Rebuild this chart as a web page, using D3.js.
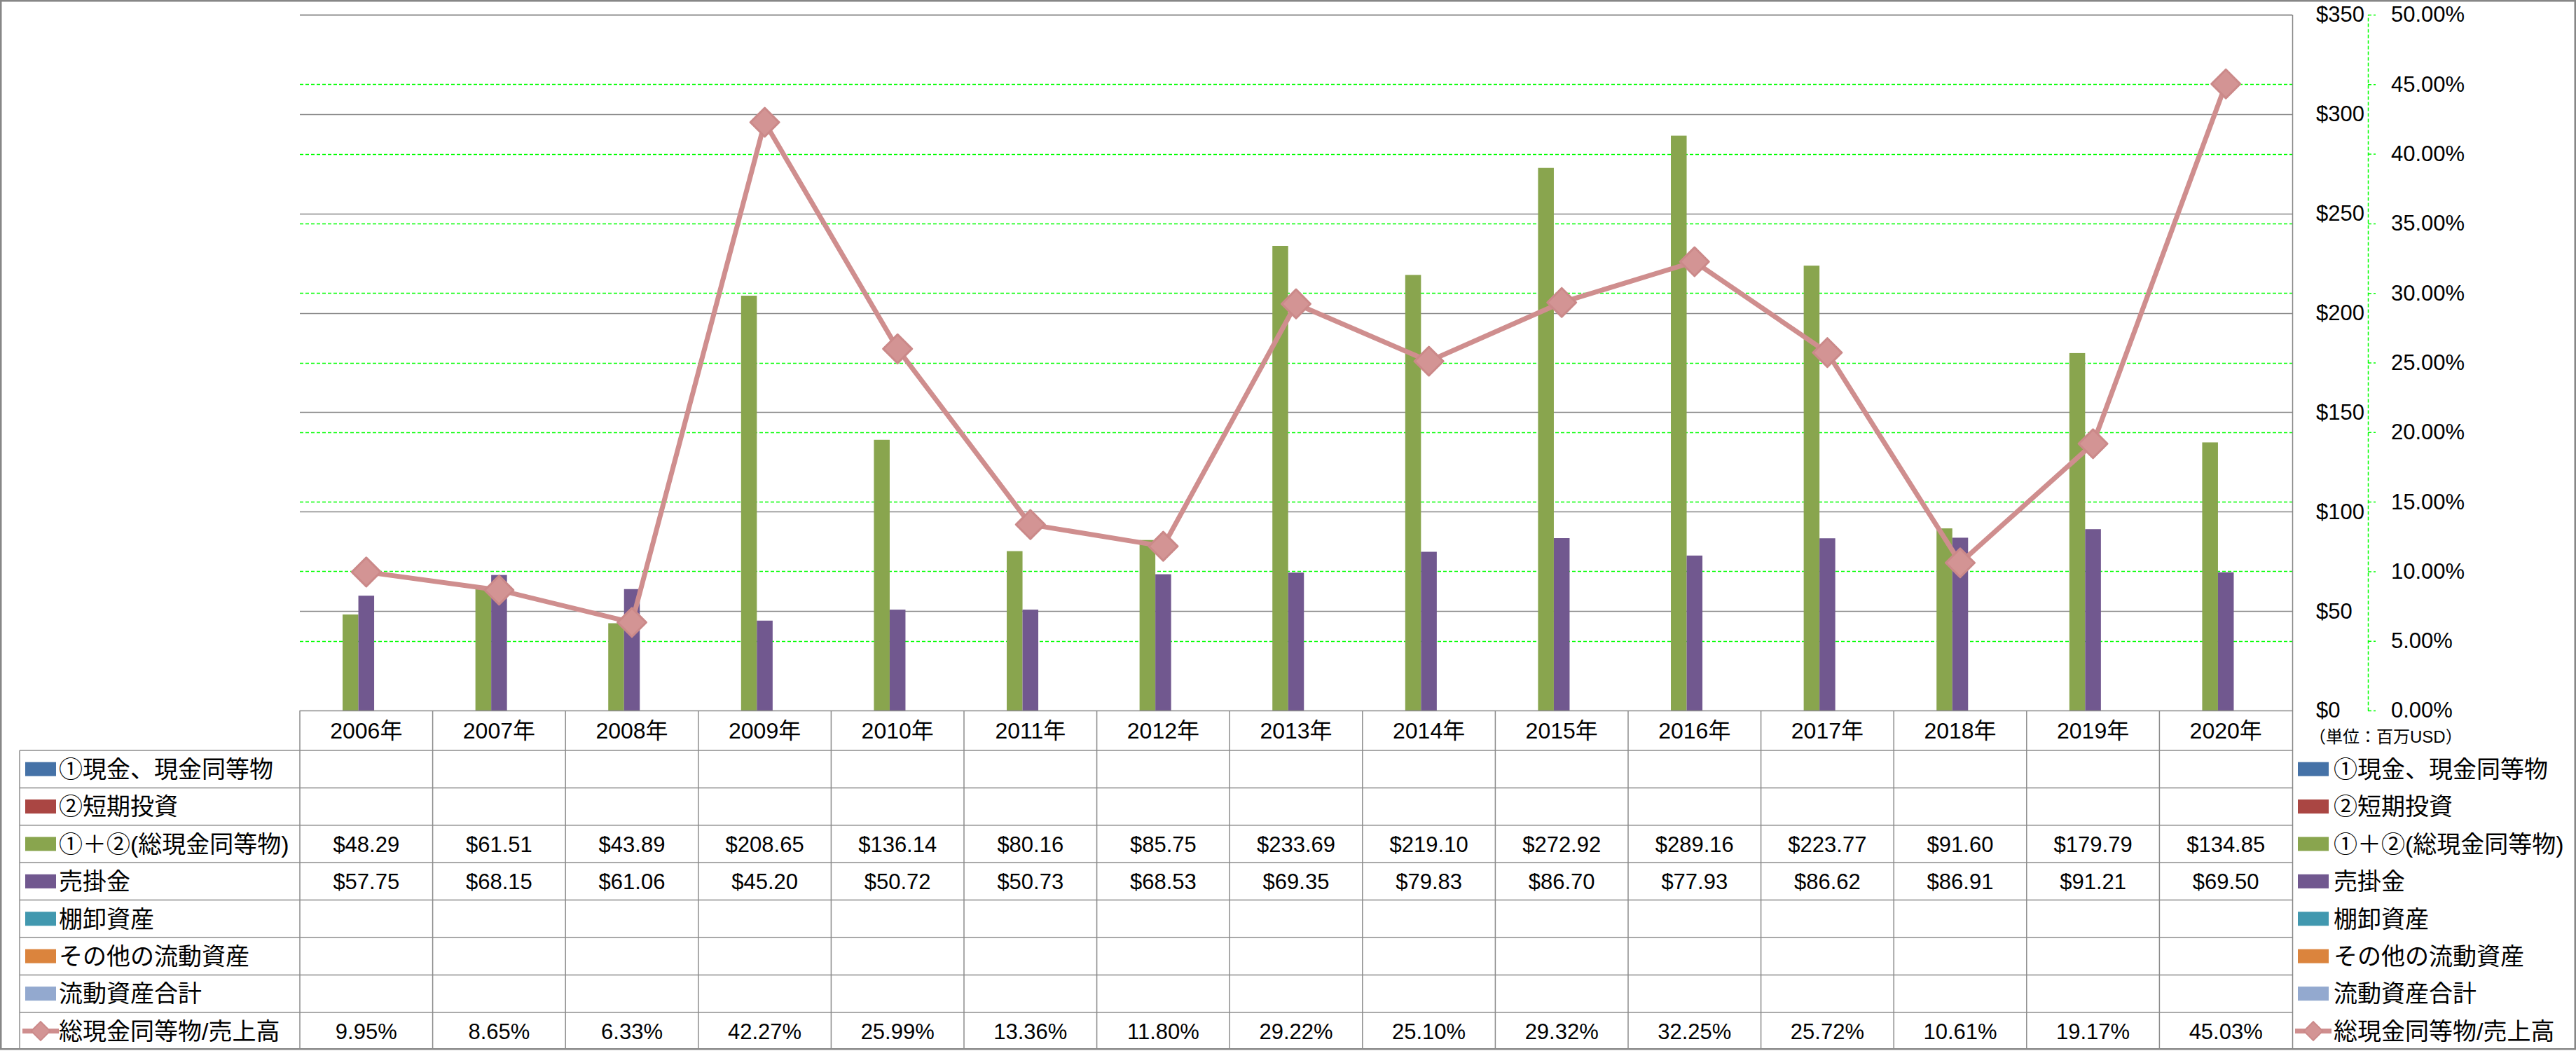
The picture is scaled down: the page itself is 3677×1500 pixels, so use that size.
<!DOCTYPE html>
<html>
<head>
<meta charset="utf-8">
<script src="https://cdn.jsdelivr.net/npm/d3@7"></script>
<style>
html,body{margin:0;padding:0;background:#fff;}
svg{display:block;}
text{font-family:"Liberation Sans","Noto Sans CJK JP",sans-serif;fill:#000;}
</style>
</head>
<body>
<svg id="chart" width="3677" height="1500"></svg>
<script>
// ---------------- data ----------------
const years = ["2006年","2007年","2008年","2009年","2010年","2011年","2012年","2013年","2014年","2015年","2016年","2017年","2018年","2019年","2020年"];
const seriesNames = ["①現金、現金同等物","②短期投資","①＋②(総現金同等物)","売掛金","棚卸資産","その他の流動資産","流動資産合計"];
const lineName = "総現金同等物/売上高";
const cashEq = [null,null,null,null,null,null,null,null,null,null,null,null,null,null,null];
const shortInv = [null,null,null,null,null,null,null,null,null,null,null,null,null,null,null];
const totalCash = [48.29,61.51,43.89,208.65,136.14,80.16,85.75,233.69,219.10,272.92,289.16,223.77,91.60,179.79,134.85];
const receivables = [57.75,68.15,61.06,45.20,50.72,50.73,68.53,69.35,79.83,86.70,77.93,86.62,86.91,91.21,69.50];
const inventory = [null,null,null,null,null,null,null,null,null,null,null,null,null,null,null];
const otherCur = [null,null,null,null,null,null,null,null,null,null,null,null,null,null,null];
const totalCur = [null,null,null,null,null,null,null,null,null,null,null,null,null,null,null];
const ratioPct = [9.95,8.65,6.33,42.27,25.99,13.36,11.80,29.22,25.10,29.32,32.25,25.72,10.61,19.17,45.03];
const dollarTicks = [0,50,100,150,200,250,300,350];
const pctTicks = [0,0.05,0.10,0.15,0.20,0.25,0.30,0.35,0.40,0.45,0.50];
const unitLabel = "（単位：百万USD）";

// ---------------- styles ----------------
const seriesColors = ["#4572A7","#AA4643","#89A54E","#71588F","#4198AF","#DB843D","#93A9CF"];
const lineColor = "#CF8E8E";
const markerFill = "#D39494";
const markerStroke = "#CB8989";
const gridGray = "#878787";
const tableGray = "#8C8C8C";
const dashGreen = "#00FF00";

const seriesValues = [cashEq, shortInv, totalCash, receivables, inventory, otherCur, totalCur];

const svg = d3.select("#chart");
const P = {left:428, right:3272, top:21, bottom:1014};
const tableTop = 1014, headerBottom = 1071, rowH = 53.4, tableLeft = 28;

const x = d3.scaleBand().domain(years).range([P.left, P.right]).padding(0);
const xs = d3.scaleBand().domain(d3.range(seriesNames.length)).range([0, x.bandwidth()]).paddingInner(0).paddingOuter(0.71);
const y = d3.scaleLinear().domain([0,350]).range([P.bottom, P.top]);
const y2 = d3.scaleLinear().domain([0,0.5]).range([P.bottom, P.top]);

// chart border
svg.append("rect").attr("x",1.25).attr("y",1.25).attr("width",3677-2.5).attr("height",1497-1)
  .attr("fill","#fff").attr("stroke",gridGray).attr("stroke-width",2.5);

// gray gridlines (primary axis)
svg.append("g").selectAll("line").data(dollarTicks.filter(d=>d>0)).join("line")
  .attr("x1",P.left).attr("x2",P.right)
  .attr("y1",d=>Math.round(y(d))+0.5).attr("y2",d=>Math.round(y(d))+0.5)
  .attr("stroke",gridGray).attr("stroke-width",1.5);

// green dashed gridlines (secondary axis)
svg.append("g").selectAll("line").data(pctTicks.filter(d=>d>0 && d<0.5)).join("line")
  .attr("x1",P.left).attr("x2",P.right)
  .attr("y1",d=>Math.round(y2(d))+0.5).attr("y2",d=>Math.round(y2(d))+0.5)
  .attr("stroke",dashGreen).attr("stroke-width",1.3).attr("stroke-dasharray","5,3");

// bars
const barG = svg.append("g");
seriesValues.forEach((vals, si) => {
  barG.append("g").selectAll("rect")
    .data(vals.map((v,i)=>({v, yr:years[i]})).filter(d=>d.v!=null))
    .join("rect")
    .attr("x", d=>x(d.yr)+xs(si))
    .attr("width", xs.bandwidth())
    .attr("y", d=>y(d.v))
    .attr("height", d=>y(0)-y(d.v))
    .attr("fill", seriesColors[si]);
});

// line
const cx = yr => x(yr)+x.bandwidth()/2;
const lineGen = d3.line().x((d,i)=>cx(years[i])).y(d=>y2(d/100));
svg.append("path").datum(ratioPct).attr("d",lineGen)
  .attr("fill","none").attr("stroke",lineColor).attr("stroke-width",7).attr("stroke-linejoin","round");
const diamond = d3.symbol().type(d3.symbolSquare).size(29*29);
svg.append("g").selectAll("path").data(ratioPct).join("path")
  .attr("d",diamond)
  .attr("transform",(d,i)=>`translate(${cx(years[i])},${y2(d/100)}) rotate(45)`)
  .attr("fill",markerFill).attr("stroke",markerStroke).attr("stroke-width",3).attr("stroke-linejoin","round");

// plot right border
svg.append("line").attr("x1",P.right+0.5).attr("x2",P.right+0.5).attr("y1",P.top).attr("y2",1498)
  .attr("stroke",gridGray).attr("stroke-width",1.5);

// top border of plot (350 gridline)
svg.append("line").attr("x1",P.left).attr("x2",P.right).attr("y1",Math.round(y(350))+0.5).attr("y2",Math.round(y(350))+0.5)
  .attr("stroke",gridGray).attr("stroke-width",1.5);

// dollar axis labels (right side)
const dollarAxis = d3.axisRight(y).tickValues(dollarTicks).tickSize(0).tickPadding(0).tickFormat(d=>"$"+d);
const gDol = svg.append("g").attr("transform","translate(3306,0)").call(dollarAxis);
gDol.select(".domain").remove();
gDol.selectAll("text").attr("font-size",31).attr("font-family","Liberation Sans").attr("text-anchor","start").attr("x",0);

// percent axis (green dashed)
const pctAxis = d3.axisRight(y2).tickValues(pctTicks).tickSize(11).tickSizeOuter(0).tickPadding(22).tickFormat(d3.format(".2%"));
const gPct = svg.append("g").attr("transform","translate(3380,0)").call(pctAxis);
gPct.select(".domain").attr("stroke",dashGreen).attr("stroke-width",1.5).attr("stroke-dasharray","5,3");
gPct.selectAll(".tick line").attr("stroke",dashGreen).attr("stroke-width",1.5).attr("stroke-dasharray","5,3");
gPct.selectAll("text").attr("font-size",31).attr("font-family","Liberation Sans").attr("x",33);

// unit label
svg.append("text").attr("x",3296).attr("y",1052).attr("dy","0.35em").attr("font-size",24).text(unitLabel);

// ---------------- data table ----------------
const tbl = svg.append("g");
const rowTop = r => headerBottom + r*rowH;
const nRows = seriesNames.length + 1;
// horizontal lines
tbl.append("line").attr("x1",P.left).attr("x2",P.right).attr("y1",tableTop+0.5).attr("y2",tableTop+0.5)
  .attr("stroke",tableGray).attr("stroke-width",1.5);
d3.range(nRows).forEach(r=>{
  tbl.append("line").attr("x1",tableLeft).attr("x2",P.right).attr("y1",rowTop(r)).attr("y2",rowTop(r))
    .attr("stroke",tableGray).attr("stroke-width",1.5);
});
// vertical lines
tbl.append("line").attr("x1",tableLeft).attr("x2",tableLeft).attr("y1",headerBottom).attr("y2",1498)
  .attr("stroke",tableGray).attr("stroke-width",1.5);
years.forEach(yr=>{
  tbl.append("line").attr("x1",x(yr)).attr("x2",x(yr)).attr("y1",tableTop).attr("y2",1498)
    .attr("stroke",tableGray).attr("stroke-width",1.5);
});
// year header
tbl.append("g").selectAll("text").data(years).join("text")
  .attr("x",d=>cx(d)).attr("y",(tableTop+headerBottom)/2).attr("dy","0.36em")
  .attr("text-anchor","middle").attr("font-size",32).text(d=>d);
// value rows
seriesValues.forEach((vals, si)=>{
  tbl.append("g").selectAll("text").data(vals.map((v,i)=>({v,yr:years[i]})).filter(d=>d.v!=null)).join("text")
    .attr("x",d=>cx(d.yr)).attr("y",rowTop(si)+rowH/2).attr("dy","0.36em")
    .attr("text-anchor","middle").attr("font-size",31).text(d=>"$"+d.v.toFixed(2));
});
tbl.append("g").selectAll("text").data(ratioPct).join("text")
  .attr("x",(d,i)=>cx(years[i])).attr("y",rowTop(seriesNames.length)+rowH/2).attr("dy","0.36em")
  .attr("text-anchor","middle").attr("font-size",31).text(d=>d.toFixed(2)+"%");

// legend keys (left table column and right legend)
function drawLegend(g, swX, txX){
  seriesNames.forEach((name, si)=>{
    const cy = rowTop(si)+rowH/2;
    g.append("rect").attr("x",swX).attr("y",cy-10).attr("width",44).attr("height",20).attr("fill",seriesColors[si]);
    g.append("text").attr("x",txX).attr("y",cy).attr("dy","0.36em").attr("font-size",34).text(name);
  });
  const cy = rowTop(seriesNames.length)+rowH/2;
  g.append("line").attr("x1",swX-4).attr("x2",swX+48).attr("y1",cy).attr("y2",cy)
    .attr("stroke",lineColor).attr("stroke-width",7);
  g.append("path").attr("d",d3.symbol().type(d3.symbolSquare).size(19*19))
    .attr("transform",`translate(${swX+22},${cy}) rotate(45)`)
    .attr("fill",markerFill).attr("stroke",markerStroke).attr("stroke-width",2);
  g.append("text").attr("x",txX).attr("y",cy).attr("dy","0.36em").attr("font-size",34).text(lineName);
}
drawLegend(svg.append("g"), 36, 84);
drawLegend(svg.append("g"), 3280, 3331);
</script>
</body>
</html>
